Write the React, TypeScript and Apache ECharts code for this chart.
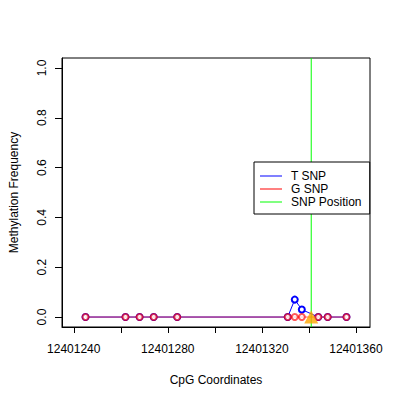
import * as echarts from 'echarts';
import React, { useEffect, useRef } from 'react';

const positions = [12401245, 12401262, 12401268, 12401274, 12401284, 12401331, 12401334, 12401337, 12401344, 12401348, 12401356];
const tSnp = [0, 0, 0, 0, 0, 0, 0.07, 0.03, 0, 0, 0];
const gSnp = [0, 0, 0, 0, 0, 0, 0, 0, 0, 0, 0];
const snpPosition = 12401341;
const xTicks = [12401240, 12401260, 12401280, 12401300, 12401320, 12401340, 12401360];
const xLabels = [12401240, 12401280, 12401320, 12401360];
const yTicks = [0, 0.2, 0.4, 0.6, 0.8, 1.0];
const yMin = -0.04;
const yMax = 1.04;

const font = 'Liberation Sans, Arial, sans-serif';

const App: React.FC = () => {
  const ref = useRef<HTMLDivElement>(null);

  useEffect(() => {
    const chart = echarts.init(ref.current, null, { renderer: 'svg' });
    chart.setOption({
      animation: false,
      backgroundColor: '#fff',
      textStyle: { fontFamily: font, color: '#000' },
      grid: {
        left: 59,
        top: 58,
        right: 30,
        bottom: 73,
        show: true,
        borderColor: '#000',
        borderWidth: 1,
      },
      legend: {
        orient: 'vertical',
        left: 254,
        top: 162,
        width: 116,
        backgroundColor: '#fff',
        borderColor: '#000',
        borderWidth: 1,
        borderRadius: 0,
        padding: [8, 8, 6, 6],
        itemWidth: 22,
        itemHeight: 1,
        itemGap: 1,
        icon: 'rect',
        z: 10,
        textStyle: { fontSize: 12, fontFamily: font, color: '#000', padding: [0, 0, 0, 4] },
        data: [
          { name: 'T SNP', itemStyle: { color: '#0000ff', opacity: 1 } },
          { name: 'G SNP', itemStyle: { color: '#ff0000', opacity: 1 } },
          { name: 'SNP Position', itemStyle: { color: '#00ff00', opacity: 1 } },
        ],
      },
      xAxis: {
        type: 'value',
        min: 12401235,
        max: 12401366,
        name: 'CpG Coordinates',
        nameLocation: 'middle',
        nameGap: 47,
        nameTextStyle: { fontSize: 12, fontFamily: font, color: '#000' },
        axisLine: { show: true, onZero: false, lineStyle: { color: '#000' } },
        axisTick: { show: true, length: 6, customValues: xTicks, lineStyle: { color: '#000' } },
        axisLabel: {
          customValues: xLabels,
          margin: 16,
          fontSize: 12,
          fontFamily: font,
          color: '#000',
          formatter: (v: number) => String(v),
        },
        splitLine: { show: false },
      },
      yAxis: {
        type: 'value',
        min: yMin,
        max: yMax,
        name: 'Methylation Frequency',
        nameLocation: 'middle',
        nameGap: 42,
        nameTextStyle: { fontSize: 12, fontFamily: font, color: '#000' },
        axisLine: { show: true, lineStyle: { color: '#000' } },
        axisTick: { show: true, length: 7, customValues: yTicks, lineStyle: { color: '#000' } },
        axisLabel: {
          customValues: yTicks,
          rotate: 90,
          margin: 14,
          fontSize: 12,
          fontFamily: font,
          color: '#000',
          formatter: (v: number) => v.toFixed(1),
        },
        splitLine: { show: false },
      },
      series: [
        {
          name: 'SNP Position',
          type: 'line',
          data: [[snpPosition, yMin], [snpPosition, yMax]],
          color: '#00ff00',
          symbol: 'none',
          lineStyle: { width: 1, color: '#00ff00' },
          z: 1,
        },
        {
          name: 'T SNP',
          type: 'line',
          data: positions.map((p, i) => [p, tSnp[i]]),
          color: '#0000ff',
          symbol: 'emptyCircle',
          symbolSize: 6,
          lineStyle: { width: 1 },
          itemStyle: { borderWidth: 1 },
          z: 2,
        },
        {
          name: 'G SNP',
          type: 'line',
          data: positions.map((p, i) => [p, gSnp[i]]),
          color: '#ff0000',
          symbol: 'emptyCircle',
          symbolSize: 6,
          lineStyle: { width: 1, opacity: 0.65 },
          itemStyle: { borderWidth: 1, opacity: 0.65 },
          z: 3,
        },
        {
          name: 'marker',
          type: 'scatter',
          data: [[snpPosition, 0]],
          symbol: 'triangle',
          symbolSize: [14, 13],
          itemStyle: { color: '#ffa500' },
          z: 5,
        },
      ],
    });
    return () => {
      chart.dispose();
    };
  }, []);

  return <div ref={ref} style={{ position: 'fixed', left: 0, top: 0, width: 400, height: 400 }}></div>;
};

export default App;
